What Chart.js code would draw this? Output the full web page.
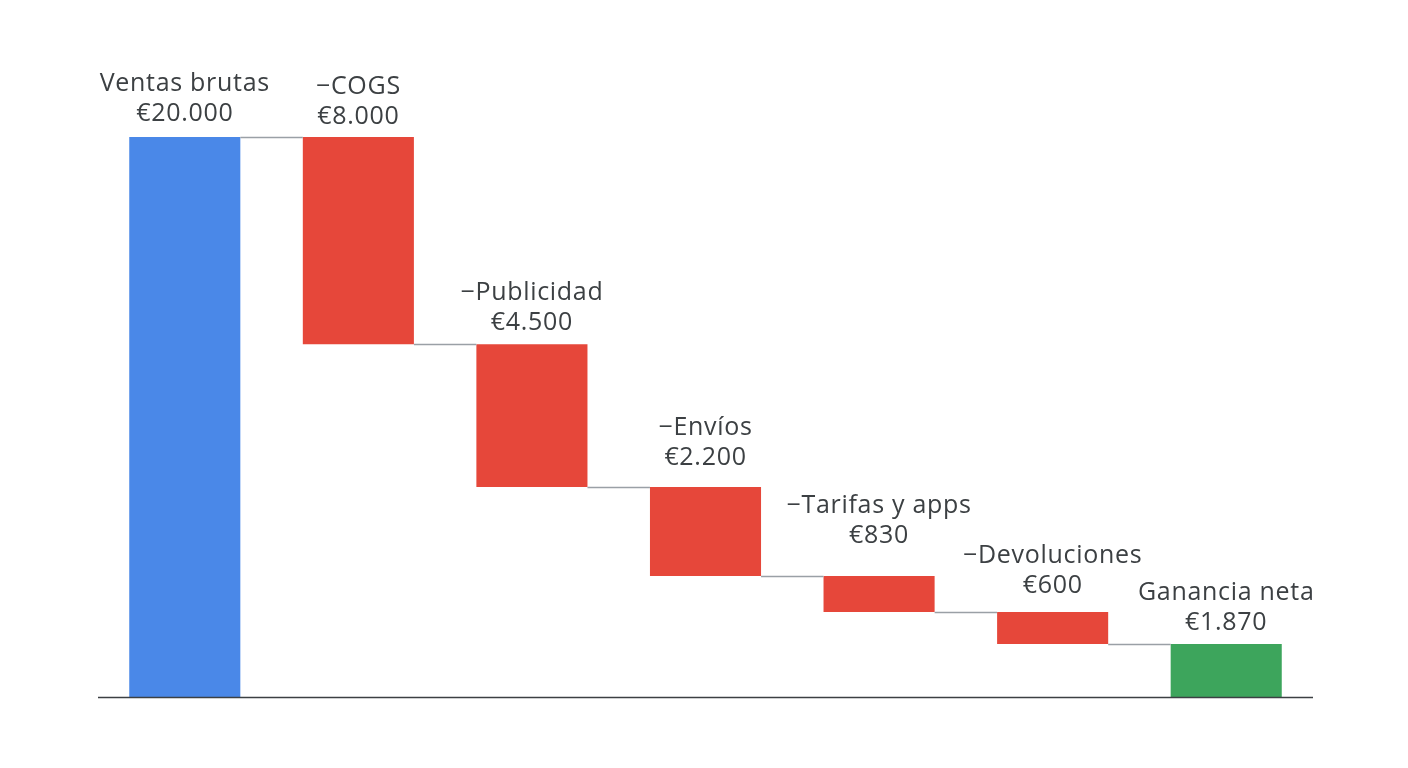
<!DOCTYPE html>
<html lang="es">
<head>
<meta charset="utf-8">
<title>Cascada de ganancias</title>
<script src="https://cdn.jsdelivr.net/npm/chart.js@4.4.1/dist/chart.umd.min.js"></script>
<style>
  html, body { margin: 0; padding: 0; background: #ffffff; }
  #wrap { width: 1408px; height: 768px; }
</style>
</head>
<body>
<div id="wrap">
  <canvas id="waterfall" width="1408" height="768"></canvas>
</div>
<script>
// categories and the amount printed under each one
const categories = ['Ventas brutas', '\u2212COGS', '\u2212Publicidad', '\u2212Env\u00edos',
  '\u2212Tarifas y apps', '\u2212Devoluciones', 'Ganancia neta'];
const amounts = [20000, 8000, 4500, 2200, 830, 600, 1870];

// running level after each step, as drawn in the picture (euros)
const levels = [20000, 12600, 7500, 4320, 3040, 1890];

const barColors = ['#4a88e8', '#e6473a', '#e6473a', '#e6473a', '#e6473a', '#e6473a', '#3da55c'];

// floating ranges for the bars: first and last start at zero
const ranges = categories.map((c, i) => {
  if (i === 0) return [0, levels[0]];
  if (i === categories.length - 1) return [0, levels[levels.length - 1]];
  return [levels[i], levels[i - 1]];
});

function euro(v) {
  return '\u20ac' + String(v).replace(/\B(?=(\d{3})+(?!\d))/g, '.');
}

const FONT = '25px "Open Sans", "Noto Sans", sans-serif';
// how far the amount line sits above each bar top (px), labels aren't evenly placed
const labelLift = [23, 20, 21, 29, 40, 26, 21];

// connectors, baseline and the two-line labels
const waterfallDecor = {
  id: 'waterfallDecor',
  afterDatasetsDraw(chart) {
    const ctx = chart.ctx;
    const meta = chart.getDatasetMeta(0);
    const y = chart.scales.y;
    const area = chart.chartArea;

    ctx.save();
    // step connectors
    ctx.strokeStyle = '#9aa0a6';
    ctx.lineWidth = 1.5;
    for (let i = 0; i < levels.length; i++) {
      const a = meta.data[i], b = meta.data[i + 1];
      const py = Math.round(y.getPixelForValue(levels[i])) + 0.5;
      ctx.beginPath();
      ctx.moveTo(a.x + a.width / 2, py);
      ctx.lineTo(b.x - b.width / 2, py);
      ctx.stroke();
    }

    // baseline
    ctx.strokeStyle = '#3c4043';
    ctx.lineWidth = 1.5;
    const by = y.getPixelForValue(0) + 0.5;
    ctx.beginPath();
    ctx.moveTo(area.left, by);
    ctx.lineTo(area.right, by);
    ctx.stroke();

    // labels
    ctx.fillStyle = '#3c4043';
    ctx.font = FONT;
    ctx.letterSpacing = '0.7px';
    ctx.textAlign = 'center';
    ctx.textBaseline = 'middle';
    meta.data.forEach((el, i) => {
      const top = Math.min(el.y, el.base);
      const lift = labelLift[i];
      ctx.fillText(categories[i], el.x, top - lift - 30);
      ctx.fillText(euro(amounts[i]), el.x, top - lift);
    });
    ctx.restore();
  }
};

new Chart(document.getElementById('waterfall'), {
  type: 'bar',
  data: {
    labels: categories,
    datasets: [{
      data: ranges,
      backgroundColor: barColors,
      borderWidth: 0,
      borderSkipped: false,
      barPercentage: 0.64,
      categoryPercentage: 1.0
    }]
  },
  options: {
    responsive: false,
    devicePixelRatio: 1,
    animation: false,
    layout: { padding: { left: 98, right: 95, top: 137, bottom: 71 } },
    plugins: {
      legend: { display: false },
      tooltip: { enabled: false },
      title: { display: false }
    },
    scales: {
      x: { display: false, grid: { display: false } },
      y: { display: false, min: 0, max: 20000, grid: { display: false } }
    }
  },
  plugins: [waterfallDecor]
});
</script>
</body>
</html>
